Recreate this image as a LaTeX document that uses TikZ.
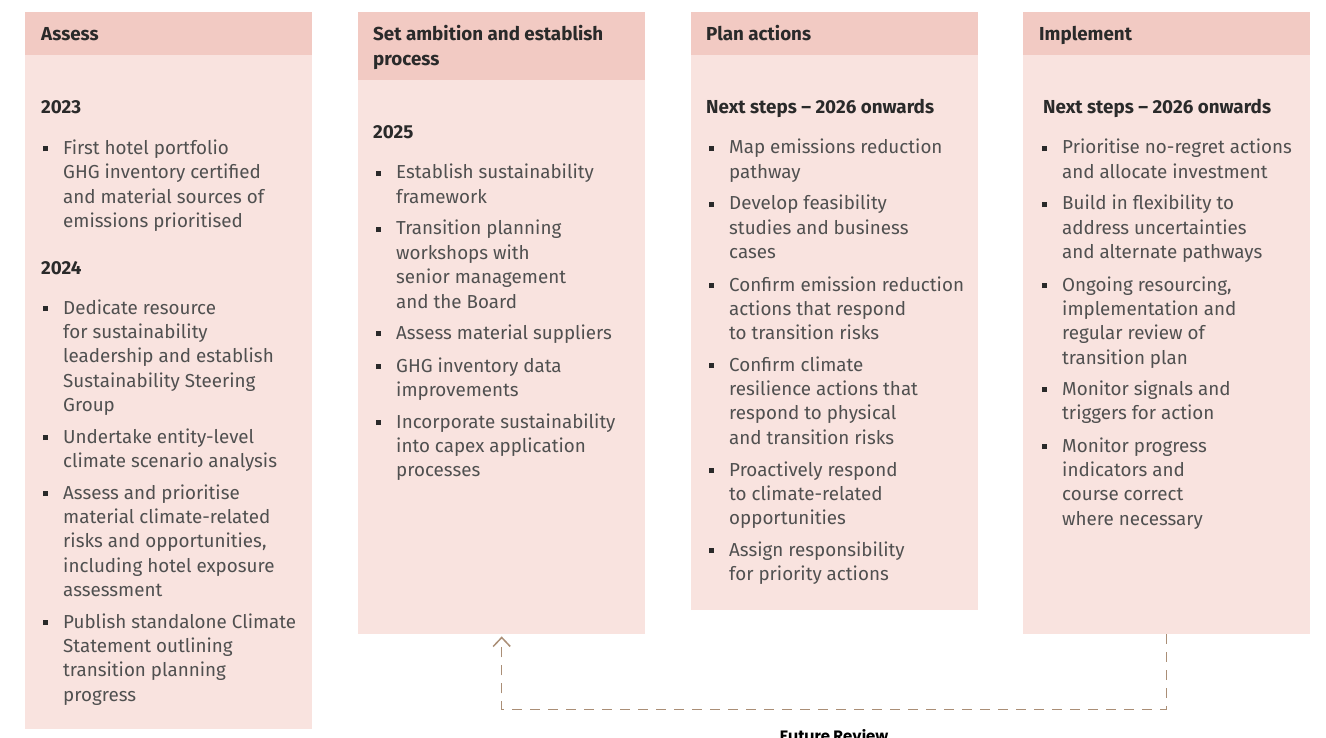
\documentclass[tikz,border=0pt]{standalone}
\usepackage{fontspec}
\setmainfont{Fira Sans}
\newfontfamily\revfont{Poppins}
\usetikzlibrary{arrows.meta}

\definecolor{headfill}{RGB}{242,202,195}
\definecolor{bodyfill}{RGB}{249,227,223}
\definecolor{bodytext}{RGB}{80,80,80}
\definecolor{headtext}{RGB}{42,42,42}
\definecolor{reviewline}{RGB}{170,142,118}

% stacked lines whose baseline is the first line
\newcommand\lines[1]{\begin{tabular}[t]{@{}l@{}}#1\end{tabular}}
% square bullet hanging left of the item text
\newcommand\sqbullet{\makebox[0pt][r]{\textcolor{headtext}{\rule[2.8pt]{5pt}{5pt}}\hspace{15pt}}}
\newcommand\bodyfont{\fontsize{18.8}{24.4}\selectfont}

\tikzset{
  headbox/.style={fill=headfill, draw=none, inner sep=0pt, anchor=north west, minimum width=287pt},
  bodybox/.style={fill=bodyfill, draw=none, inner sep=0pt, anchor=north west, minimum width=287pt},
  ttl/.style={anchor=base west, inner sep=0pt, text=headtext, font=\bodyfont\bfseries},
  entry/.style={anchor=base west, inner sep=0pt, text=bodytext, font=\bodyfont},
  review/.style={draw=reviewline, line width=1.5pt, dash pattern=on 10pt off 8pt},
}

\begin{document}
\begin{tikzpicture}[x=1pt,y=-1pt]
\useasboundingbox (0,0) rectangle (1326,738);

% ---- column boxes
\node[headbox, minimum height=43pt]  (h1) at (25,12) {};
\node[bodybox, minimum height=674pt] (b1) at (25,55) {};
\node[headbox, minimum height=68pt]  (h2) at (358,12) {};
\node[bodybox, minimum height=554pt] (b2) at (358,80) {};
\node[headbox, minimum height=43pt]  (h3) at (691,12) {};
\node[bodybox, minimum height=555pt] (b3) at (691,55) {};
\node[headbox, minimum height=43pt]  (h4) at (1023,12) {};
\node[bodybox, minimum height=579pt] (b4) at (1023,55) {};

% ---- Assess
\node[ttl] (t1) at (41,41) {Assess};
\node[ttl] (y1) at (41,114) {2023};
\node[entry] (a1) at (63,154.3) {\sqbullet\lines{First hotel portfolio\\GHG inventory certified\\and material sources of\\emissions prioritised}};
\node[ttl] (y2) at (41,275) {2024};
\node[entry] (a2) at (63,314) {\sqbullet\lines{Dedicate resource\\for sustainability\\leadership and establish\\Sustainability Steering\\Group}};
\node[entry] (a3) at (63,443) {\sqbullet\lines{Undertake entity-level\\climate scenario analysis}};
\node[entry] (a4) at (63,499) {\sqbullet\lines{Assess and prioritise\\material climate-related\\risks and opportunities,\\including hotel exposure\\assessment}};
\node[entry] (a5) at (63,628) {\sqbullet\lines{Publish standalone Climate\\Statement outlining\\transition planning\\progress}};

% ---- Set ambition and establish process
\node[ttl] (t2) at (373,40.7) {\lines{Set ambition and establish\\process}};
\node[ttl] (y3) at (373,139) {2025};
\node[entry] (s1) at (396,179) {\sqbullet\lines{Establish sustainability\\framework}};
\node[entry] (s2) at (396,235) {\sqbullet\lines{Transition planning\\workshops with\\senior management\\and the Board}};
\node[entry] (s3) at (396,339) {\sqbullet\lines{Assess material suppliers}};
\node[entry] (s4) at (396,372) {\sqbullet\lines{GHG inventory data\\improvements}};
\node[entry] (s5) at (396,428) {\sqbullet\lines{Incorporate sustainability\\into capex application\\processes}};

% ---- Plan actions
\node[ttl] (t3) at (706,41) {Plan actions};
\node[ttl] (n1) at (706,114) {Next steps – 2026 onwards};
\node[entry] (p1) at (729,154) {\sqbullet\lines{Map emissions reduction\\pathway}};
\node[entry] (p2) at (729,210) {\sqbullet\lines{Develop feasibility\\studies and business\\cases}};
\node[entry] (p3) at (729,291) {\sqbullet\lines{Confirm emission reduction\\actions that respond\\to transition risks}};
\node[entry] (p4) at (729,371) {\sqbullet\lines{Confirm climate\\resilience actions that\\respond to physical\\and transition risks}};
\node[entry] (p5) at (729,476) {\sqbullet\lines{Proactively respond\\to climate-related\\opportunities}};
\node[entry] (p6) at (729,556) {\sqbullet\lines{Assign responsibility\\for priority actions}};

% ---- Implement
\node[ttl] (t4) at (1039,41) {Implement};
\node[ttl] (n2) at (1043,114) {Next steps – 2026 onwards};
\node[entry] (i1) at (1062,154) {\sqbullet\lines{Prioritise no-regret actions\\and allocate investment}};
\node[entry] (i2) at (1062,210) {\sqbullet\lines{Build in flexibility to\\address uncertainties\\and alternate pathways}};
\node[entry] (i3) at (1062,291) {\sqbullet\lines{Ongoing resourcing,\\implementation and\\regular review of\\transition plan}};
\node[entry] (i4) at (1062,395) {\sqbullet\lines{Monitor signals and\\triggers for action}};
\node[entry] (i5) at (1062,452) {\sqbullet\lines{Monitor progress\\indicators and\\course correct\\where necessary}};

% ---- review loop back to the second column
\draw[review, -{Straight Barb[length=9pt,width=17pt]}, shorten >=2pt]
  (b4.south) -- ++(0,75) -| (b2.south)
  node[pos=0.25, anchor=base, yshift=-32pt, inner sep=0pt, text=black,
       font=\revfont\fontsize{15}{18}\selectfont\bfseries] (fr) {Future Review};
\end{tikzpicture}
\end{document}
